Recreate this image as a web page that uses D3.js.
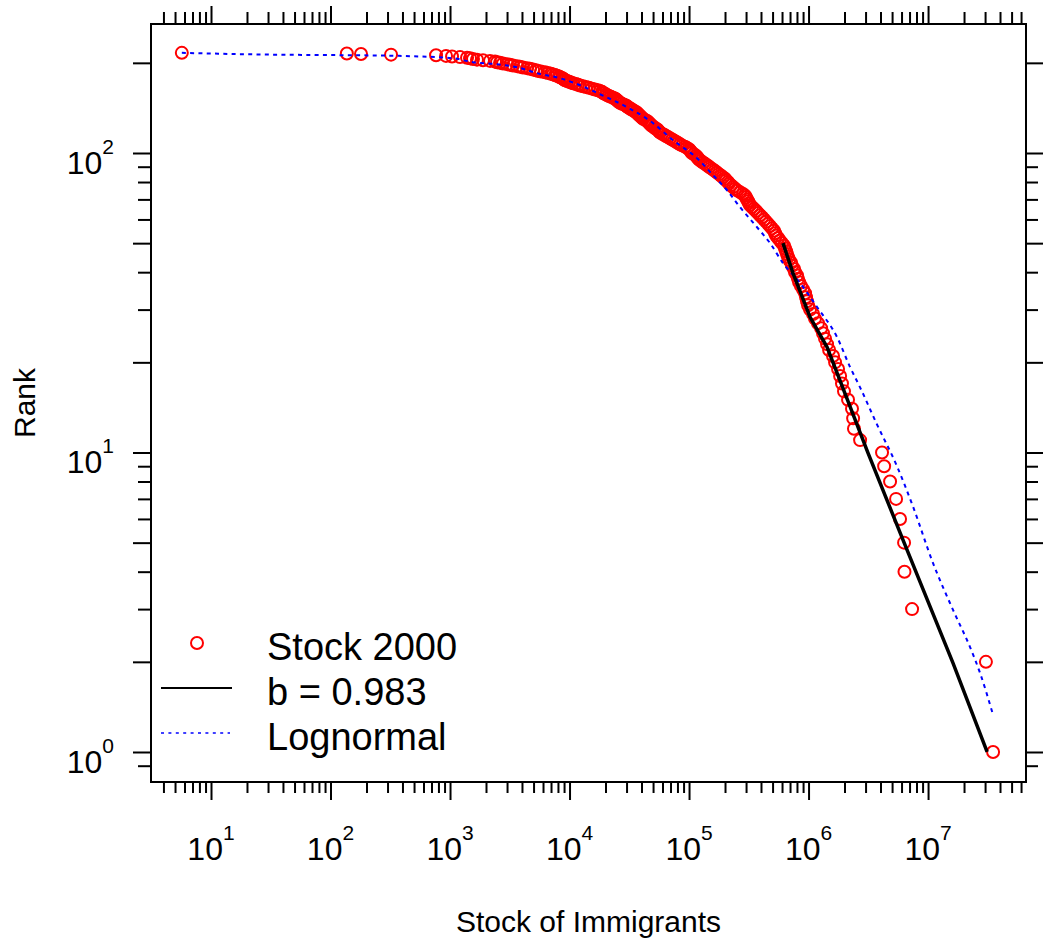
<!DOCTYPE html>
<html lang="en">
<head>
<meta charset="UTF-8">
<title>Rank vs Stock of Immigrants</title>
<script src="https://d3js.org/d3.v7.min.js"></script>
<style>
  body { margin: 0; background: #fff; }
  text { font-family: "Liberation Sans", Arial, Helvetica, sans-serif; fill: #000; }
</style>
</head>
<body>
<svg id="chart"></svg>
<script>
// stock of immigrants, ordered by rank (rank 1 = largest)
var stock = [
  35000000, 30500000, 7350000, 6350000, 6300000, 5830000, 5400000, 4810000, 4290000, 4120000,
  2700000, 2400000, 2360000, 2310000, 2140000, 1980000, 1905000, 1837000, 1766000, 1667000,
  1603000, 1486000, 1429000, 1374000, 1321000, 1274000, 1199000, 1132000, 1091000, 1030000,
  990800, 970500, 952800, 935400, 899500, 865000, 833700, 816600, 801700, 770900,
  756800, 727800, 714500, 687100, 673000, 660700, 648600, 635300, 623700, 599800,
  576800, 555900, 534600, 524800, 514000, 494300, 476400, 458100, 440600, 424600,
  408300, 392600, 377600, 363900, 349900, 336500, 323600, 317700, 311900, 305500,
  299900, 294400, 283100, 267300, 252300, 242700, 233300, 224400, 216300, 211800,
  204200, 200000, 192300, 185400, 178200, 171400, 165200, 158900, 152800, 146900,
  141600, 136100, 130900, 125900, 121300, 118900, 116700, 114300, 110200, 105900,
  103900, 101900, 100000, 96160, 92470, 87300, 84140, 80910, 77800, 74820,
  72100, 69340, 66680, 64120, 61870, 59520, 57260, 56170, 55100, 54050,
  51990, 51020, 49090, 48150, 47240, 46340, 45460, 44590, 42900, 41270,
  40480, 39710, 38960, 38220, 37490, 36780, 36080, 34710, 34050, 32750,
  32130, 30910, 30320, 29740, 28610, 27520, 26470, 25970, 25470, 24990,
  24510, 24040, 23130, 22250, 21400, 20590, 20200, 19430, 19060, 18700,
  17990, 17300, 16330, 15410, 14550, 13740, 12970, 12250, 11780, 11330,
  10700, 10300, 9929, 9551, 9187, 9010, 8837, 8667, 8337, 8177,
  7865, 7566, 7277, 7000, 6608, 6239, 5772, 5449, 5241, 4948,
  4671, 4410, 4080, 3852, 3637, 3365, 3177, 2999, 2775, 2620,
  2474, 2381, 2161, 1888, 1682, 1557, 1470, 1388, 1213, 1040,
  926, 764, 321, 180, 137, 5.7
];

// lognormal fit (dotted blue)
var lnStock = [5.7, 27.2, 137, 321, 1050, 1557, 2474, 3637, 5346, 8337,
  12250, 17990, 30320, 50000, 73450, 116700, 158900, 208000, 267300, 370700,
  476400, 611000, 849000, 1178000, 1730000, 2223000, 2698000, 3741000, 5495000, 7482000,
  11010000, 16180000, 22450000, 27230000, 35000000];
var lnRank = [216, 213.2, 212.1, 211.3, 207.2, 201, 197.9, 193.4, 184.7, 177.7,
  168.4, 157.1, 142.2, 125.8, 110.3, 96.1, 84.3, 75.1, 65.9, 56.5,
  50.0, 42.9, 36.8, 30.6, 24.3, 19.3, 16.5, 12.4, 9.0, 6.6,
  4.27, 2.98, 2.24, 1.835, 1.33];

// power law fit, b = 0.983 (solid black)
var powStock = [611000, 741000, 1030000, 1429000, 3148000, 6180000, 16180000, 31200000];
var powRank = [50, 39.7, 28.3, 22.5, 9.95, 5.1, 1.98, 1.0];

// ticks
var xDecades = [1e1, 1e2, 1e3, 1e4, 1e5, 1e6, 1e7];
var xExponents = ["1", "2", "3", "4", "5", "6", "7"];
var yMajorTicks = [1, 2, 5, 10, 20, 50, 100, 200];
var yMinorTicks = [0.9, 3, 4, 6, 7, 8, 9, 30, 40, 60, 70, 80, 90];
var yDecades = [1, 10, 100];
var yExponents = ["0", "1", "2"];

var legendLabels = ["Stock 2000", "b = 0.983", "Lognormal"];

var W = 1043, H = 940;
var margin = { top: 24, right: 17, bottom: 158, left: 151 },
    width = W - margin.left - margin.right,
    height = H - margin.top - margin.bottom;

var svg = d3.select("#chart")
    .attr("width", W)
    .attr("height", H)
    .append("g")
    .attr("transform", "translate(" + margin.left + "," + margin.top + ")");

var x = d3.scaleLog().domain([3.147, 6.6e7]).range([0, width]);
var y = d3.scaleLog().domain([0.794, 269.6]).range([height, 0]);

// minor x ticks: 2..9 times each decade, inside the panel
var xMinor = [];
[1, 10, 1e2, 1e3, 1e4, 1e5, 1e6, 1e7].forEach(function (d) {
    for (var m = 2; m <= 9; m++) {
        var v = m * d;
        if (x(v) > 2 && x(v) < width - 2) xMinor.push(v);
    }
});

function styleAxis(g) {
    g.select(".domain").remove();
    g.selectAll("line").attr("stroke", "#000").attr("stroke-width", 2);
}

// x axes (bottom + top)
svg.append("g").attr("transform", "translate(0," + height + ")")
    .call(d3.axisBottom(x).tickValues(xDecades).tickSize(18).tickFormat("")).call(styleAxis);
svg.append("g").attr("transform", "translate(0," + height + ")")
    .call(d3.axisBottom(x).tickValues(xMinor).tickSize(11).tickFormat("")).call(styleAxis);
svg.append("g")
    .call(d3.axisTop(x).tickValues(xDecades).tickSize(18).tickFormat("")).call(styleAxis);
svg.append("g")
    .call(d3.axisTop(x).tickValues(xMinor).tickSize(12).tickFormat("")).call(styleAxis);

// y axes (left + right)
svg.append("g")
    .call(d3.axisLeft(y).tickValues(yMajorTicks).tickSize(18).tickFormat("")).call(styleAxis);
svg.append("g")
    .call(d3.axisLeft(y).tickValues(yMinorTicks).tickSize(13).tickFormat("")).call(styleAxis);
svg.append("g").attr("transform", "translate(" + width + ",0)")
    .call(d3.axisRight(y).tickValues(yMajorTicks).tickSize(17).tickFormat("")).call(styleAxis);
svg.append("g").attr("transform", "translate(" + width + ",0)")
    .call(d3.axisRight(y).tickValues(yMinorTicks).tickSize(12).tickFormat("")).call(styleAxis);

// tick labels with superscripts
var xl = svg.selectAll("xLabels")
    .data(xDecades)
    .enter()
    .append("text")
    .attr("x", function (d) { return x(d) })
    .attr("y", height + 78)
    .attr("text-anchor", "middle")
    .style("font-size", "32px");
xl.append("tspan").text("10");
xl.append("tspan").attr("dy", -20).style("font-size", "21px")
    .text(function (d, i) { return xExponents[i] });

var yl = svg.selectAll("yLabels")
    .data(yDecades)
    .enter()
    .append("text")
    .attr("x", -37)
    .attr("y", function (d) { return y(d) + 21 })
    .attr("text-anchor", "end")
    .style("font-size", "32px");
yl.append("tspan").text("10");
yl.append("tspan").attr("dy", -20).style("font-size", "21px")
    .text(function (d, i) { return yExponents[i] });

// axis titles
svg.append("text")
    .attr("x", width / 2)
    .attr("y", height + 150)
    .attr("text-anchor", "middle")
    .style("font-size", "30px")
    .text("Stock of Immigrants");
svg.append("text")
    .attr("transform", "translate(-116," + (height / 2) + ") rotate(-90)")
    .attr("text-anchor", "middle")
    .style("font-size", "30px")
    .text("Rank");

// points
svg.selectAll("myDots")
    .data(stock)
    .enter()
    .append("circle")
    .attr("cx", function (d) { return x(d) })
    .attr("cy", function (d, i) { return y(i + 1) })
    .attr("r", 6)
    .attr("fill", "none")
    .attr("stroke", "#ff0000")
    .attr("stroke-width", 2);

// lognormal line
var lnLine = d3.line()
    .curve(d3.curveMonotoneX)
    .x(function (d) { return x(lnStock[d]) })
    .y(function (d) { return y(lnRank[d]) });
svg.append("path")
    .attr("d", lnLine(d3.range(lnStock.length)))
    .attr("fill", "none")
    .attr("stroke", "#0000ff")
    .attr("stroke-width", 2)
    .attr("stroke-dasharray", "4,4.3");

// power law line
var powLine = d3.line()
    .x(function (d) { return x(powStock[d]) })
    .y(function (d) { return y(powRank[d]) });
svg.append("path")
    .attr("d", powLine(d3.range(powStock.length)))
    .attr("fill", "none")
    .attr("stroke", "#000")
    .attr("stroke-width", 3.5)
    .attr("stroke-linejoin", "round");

// frame
svg.append("rect")
    .attr("width", width)
    .attr("height", height)
    .attr("fill", "none")
    .attr("stroke", "#000")
    .attr("stroke-width", 2);

// legend
var leg = svg.append("g").attr("transform", "translate(0," + (height - 139) + ")");
leg.append("circle")
    .attr("cx", 46).attr("cy", 0).attr("r", 6)
    .attr("fill", "none").attr("stroke", "#ff0000").attr("stroke-width", 2);
leg.append("line")
    .attr("x1", 10).attr("x2", 81).attr("y1", 45).attr("y2", 45)
    .attr("stroke", "#000").attr("stroke-width", 2);
leg.append("line")
    .attr("x1", 10).attr("x2", 79).attr("y1", 90).attr("y2", 90)
    .attr("stroke", "#0000ff").attr("stroke-width", 1.5).attr("stroke-dasharray", "3,4.4");
leg.selectAll("legText")
    .data(legendLabels)
    .enter()
    .append("text")
    .attr("x", 116)
    .attr("y", function (d, i) { return 17 + i * 45 })
    .style("font-size", "38px")
    .text(function (d) { return d });
</script>
</body>
</html>
